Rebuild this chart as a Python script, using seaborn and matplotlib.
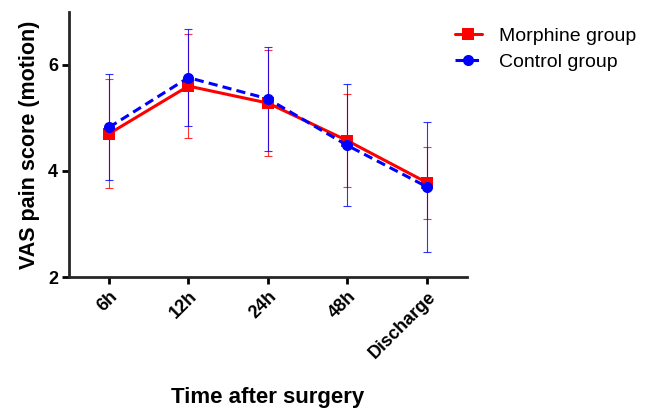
import pandas as pd
import seaborn as sns
import matplotlib.pyplot as plt

# time points and group data (mean +/- SD)
times = ['6h', '12h', '24h', '48h', 'Discharge']
morphine_mean = [4.70, 5.60, 5.28, 4.57, 3.78]
morphine_sd = [1.03, 0.98, 1.00, 0.88, 0.68]
control_mean = [4.82, 5.76, 5.36, 4.48, 3.70]
control_sd = [1.00, 0.92, 0.98, 1.15, 1.22]

df = pd.DataFrame({
    'time': times * 2,
    'score': morphine_mean + control_mean,
    'group': ['Morphine group'] * 5 + ['Control group'] * 5,
})

sns.set_style('ticks')
plt.rcParams['font.family'] = ['Liberation Sans', 'DejaVu Sans']
plt.rcParams['text.color'] = 'black'
plt.rcParams['axes.labelcolor'] = 'black'
plt.rcParams['xtick.color'] = 'black'
plt.rcParams['ytick.color'] = 'black'

fig = plt.figure(figsize=(6.64, 4.08), dpi=100)
ax = fig.add_axes([0.104, 0.321, 0.599, 0.650])

# error bars first, then the lines on top
ax.errorbar(times, morphine_mean, yerr=morphine_sd, fmt='none', ecolor='red',
            elinewidth=0.8, capsize=3, capthick=0.8, alpha=0.8)
ax.errorbar(times, control_mean, yerr=control_sd, fmt='none', ecolor='blue',
            elinewidth=0.8, capsize=3, capthick=0.8, alpha=0.8)

sns.lineplot(data=df, x='time', y='score', hue='group', style='group',
             palette={'Morphine group': 'red', 'Control group': 'blue'},
             markers={'Morphine group': 's', 'Control group': 'o'},
             dashes={'Morphine group': '', 'Control group': (3, 1.7)},
             markersize=8, markeredgewidth=0, linewidth=2.2, sort=False, ax=ax)

ax.set_xlim(-0.5, 4.5)
ax.set_ylim(2, 7)
ax.set_yticks([2, 4, 6])
ax.set_xlabel('Time after surgery', fontsize=16, fontweight='bold', labelpad=18)
ax.set_ylabel('VAS pain score (motion)', fontsize=15.5, fontweight='bold', labelpad=6)
plt.setp(ax.get_xticklabels(), rotation=45, ha='right', rotation_mode='anchor',
         fontweight='bold', fontsize=13)
plt.setp(ax.get_yticklabels(), fontweight='bold', fontsize=13)
ax.tick_params(axis='both', width=2, length=5, pad=3)
for s in ['left', 'bottom']:
    ax.spines[s].set_linewidth(2)
sns.despine(ax=ax)

ax.legend(loc='upper left', bbox_to_anchor=(0.673, 0.953),
          bbox_transform=fig.transFigure, borderaxespad=0, frameon=False,
          fontsize=14, handlelength=1.4, handletextpad=0.9, labelspacing=0.45,
          title=None)

fig.savefig('out.png', dpi=100)
